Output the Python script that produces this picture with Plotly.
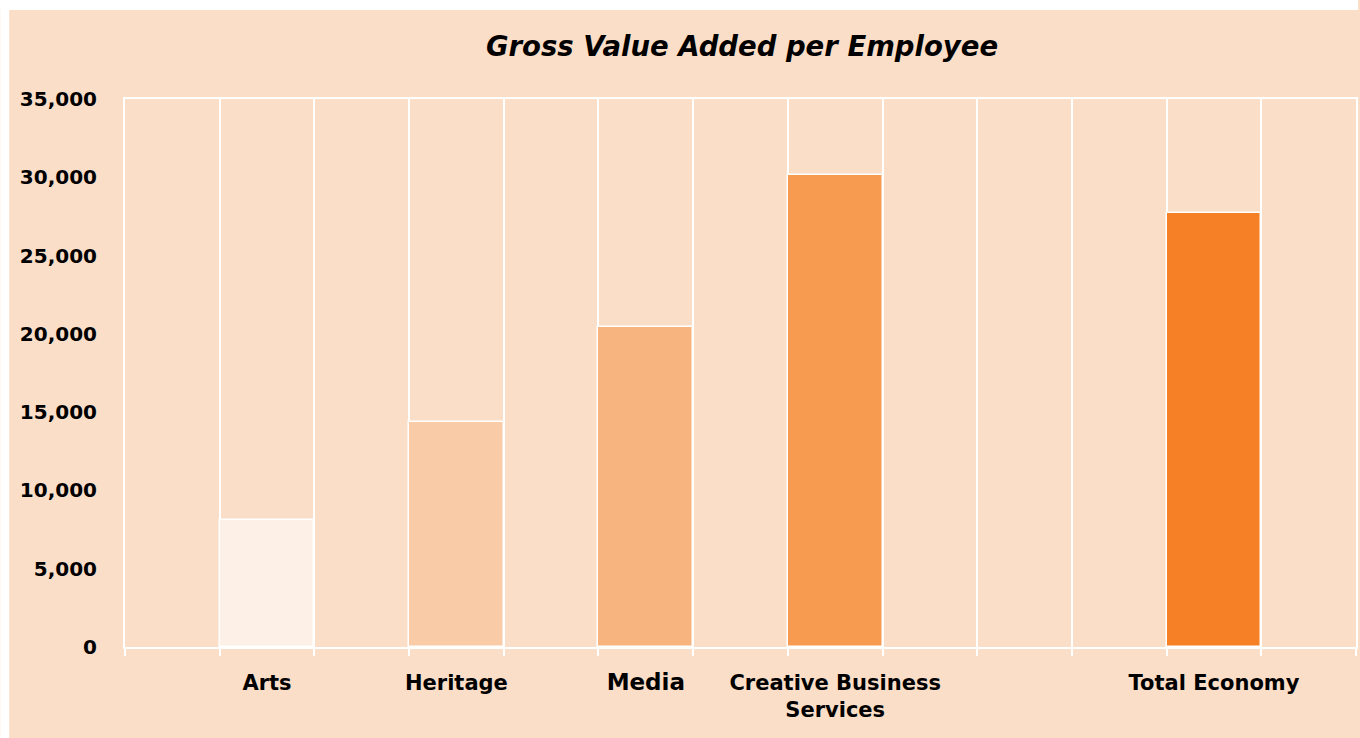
import plotly.graph_objects as go

# Gross value added per employee (GBP) by creative sector
categories = ["Arts", "Heritage", "Media", "Creative Business<br>Services", "Total Economy"]
gva_per_employee = [8100, 14350, 20450, 30150, 27750]

# Layout: the axis is split into 13 equal slots; each bar fills one slot
slot_index = [1, 3, 5, 7, 11]
n_slots = 13
bar_colors = ["#FDF0E6", "#F9CBA7", "#F8B47F", "#F69B50", "#F58025"]
y_ticks = [0, 5000, 10000, 15000, 20000, 25000, 30000, 35000]

PEACH = "#FADEC8"
FONT = "DejaVu Sans"

centers = [i + 0.5 for i in slot_index]
tick_text = []
for c in categories:
    if c == "Media":
        tick_text.append('<span style="font-size:23px">Media</span>')
    else:
        tick_text.append(c)

fig = go.Figure()
fig.add_trace(go.Bar(
    x=centers,
    y=gva_per_employee,
    width=1,
    marker=dict(color=bar_colors, line=dict(color="white", width=1.5)),
    showlegend=False,
    hoverinfo="skip",
))
# invisible trace to carry the category label axis
fig.add_trace(go.Scatter(x=centers, y=[0] * len(centers), xaxis="x2",
                         mode="markers", marker=dict(opacity=0),
                         showlegend=False, hoverinfo="skip"))

fig.update_layout(
    width=1360,
    height=738,
    margin=dict(l=125, r=2, t=99, b=91),
    paper_bgcolor=PEACH,
    plot_bgcolor=PEACH,
    font=dict(family=FONT, color="black"),
    title=dict(
        text="<b><i>Gross Value Added per Employee</i></b>",
        font=dict(size=27.5, family=FONT, color="black"),
        x=742 / 1360, xanchor="center", xref="container",
        y=1 - 46 / 738, yanchor="middle", yref="container",
    ),
    xaxis=dict(
        range=[0, n_slots],
        tickmode="array",
        tickvals=list(range(n_slots + 1)),
        showticklabels=False,
        showgrid=True, gridcolor="white", gridwidth=2,
        showline=True, linecolor="white", linewidth=2, mirror=True,
        ticks="outside", ticklen=7, tickcolor="white", tickwidth=2,
        zeroline=False,
    ),
    xaxis2=dict(
        overlaying="x", side="bottom", anchor="y",
        range=[0, n_slots],
        tickmode="array", tickvals=centers, ticktext=tick_text,
        tickfont=dict(size=21, family=FONT, color="black", weight="bold"),
        showgrid=False, showline=False, zeroline=False,
        ticks="", ticklabelstandoff=21,
    ),
    yaxis=dict(
        range=[0, 35000],
        tickmode="array", tickvals=y_ticks,
        tickformat=",d",
        tickfont=dict(size=20, family=FONT, color="black", weight="bold"),
        showgrid=False,
        showline=True, linecolor="white", linewidth=2, mirror=True,
        ticks="", ticklabelstandoff=22,
        zeroline=False,
    ),
    bargap=0,
)

# white strips along the top and left page edges
plot_w = 1360 - 125 - 2
plot_h = 738 - 99 - 91
fig.add_shape(type="rect", xref="paper", yref="paper", layer="above",
              x0=-125 / plot_w, x1=(1360 - 125) / plot_w,
              y0=(plot_h + 99 - 10) / plot_h, y1=(plot_h + 99) / plot_h,
              fillcolor="white", line=dict(width=0))
fig.add_shape(type="rect", xref="paper", yref="paper", layer="above",
              x0=-125 / plot_w, x1=(-125 + 9) / plot_w,
              y0=-91 / plot_h, y1=(plot_h + 99) / plot_h,
              fillcolor="white", line=dict(width=0))

fig.write_html("out.html")
